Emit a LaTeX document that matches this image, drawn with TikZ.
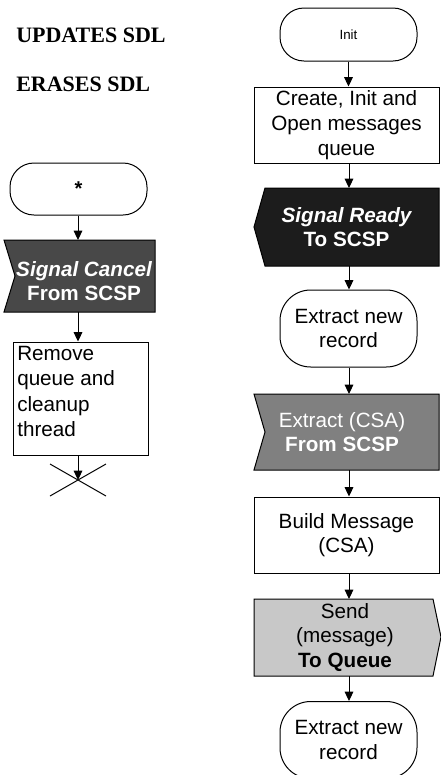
\documentclass[tikz,border=0pt]{standalone}
\usepackage{fontspec}
\setmainfont{Liberation Sans}
\newfontfamily\titlefont{Liberation Serif}
\usetikzlibrary{arrows.meta}

\definecolor{readyfill}{HTML}{1C1C1C}
\definecolor{cancelfill}{HTML}{484848}
\definecolor{csafill}{HTML}{808080}
\definecolor{sendfill}{HTML}{C8C8C8}

\tikzset{
  outline/.style={draw=black, line width=0.75pt},
  flow/.style={-{Triangle[length=7pt,width=6.5pt]}, line width=0.75pt},
  body/.style={font=\fontsize{15.5}{18.5}\selectfont, align=center, inner sep=0pt},
  stepbox/.style={outline, body, rectangle},
  term/.style={outline, body, rectangle, rounded corners=23pt},
  heading/.style={font=\titlefont\bfseries\fontsize{16.5}{18}\selectfont, anchor=base west, inner sep=0pt},
}

\begin{document}
\begin{tikzpicture}[x=0.75pt,y=-0.75pt]
\useasboundingbox (0,0) rectangle (440,775);

% headings
\node[heading] (hupd) at (16,42) {UPDATES SDL};
\node[heading] (hera) at (16,91) {ERASES SDL};

% ---------- right column ----------
\node[term, rounded corners=18pt, minimum width={137*0.75pt}, minimum height={53*0.75pt},
      font=\fontsize{10}{12}\selectfont] (init) at (348.5,34.5) {Init};

\node[stepbox, minimum width={185*0.75pt}, minimum height={76*0.75pt}] (create) at (346.5,125)
  {Create, Init and\\Open messages\\queue};

% output signal (pointed left)
\path[outline, fill=readyfill] (265,188) -- (439,188) -- (439,266) -- (265,266) -- (254,227) -- cycle;
\node[body, text=white] (ready) at (346.5,227)
  {\bfseries\itshape Signal Ready\\\bfseries To SCSP};
\coordinate (readyT) at (349,188);
\coordinate (readyB) at (349,266);

\node[term, minimum width={137*0.75pt}, minimum height={77*0.75pt}] (extr1) at (348.5,328.5)
  {Extract new\\record};

% input signal (notched left)
\path[outline, fill=csafill] (254,394) -- (439,394) -- (439,470) -- (254,470) -- (265,432) -- cycle;
\node[body, text=white] (csa) at (342,432)
  {Extract (CSA)\\\bfseries From SCSP};
\coordinate (csaT) at (349,394);
\coordinate (csaB) at (349,470);

\node[stepbox, minimum width={185*0.75pt}, minimum height={76*0.75pt}] (build) at (346.5,535)
  {Build Message\\(CSA)};

% output signal (pointed right)
\path[outline, fill=sendfill] (254,599) -- (433,599) -- (441,637) -- (433,676) -- (254,676) -- cycle;
\node[body] (send) at (345,637.5)
  {Send\\(message)\\\bfseries To Queue};
\coordinate (sendT) at (349,599);
\coordinate (sendB) at (349,676);

\node[term, minimum width={137*0.75pt}, minimum height={77*0.75pt}] (extr2) at (348.5,740)
  {Extract new\\record};

% right column connectors
\draw[flow] (init.south) -- (init.south |- create.north);
\draw[flow] (create.south -| readyT) -- (readyT);
\draw[flow] (readyB) -- (readyB |- extr1.north);
\draw[flow] (extr1.south -| csaT) -- (csaT);
\draw[flow] (csaB) -- (csaB |- build.north);
\draw[flow] (build.south -| sendT) -- (sendT);
\draw[flow] (sendB) -- (sendB |- extr2.north);

% ---------- left column ----------
\node[term, rounded corners=18pt, minimum width={137*0.75pt}, minimum height={52*0.75pt},
      font=\bfseries\fontsize{15}{18}\selectfont] (star) at (78.5,189) {*};

\path[outline, fill=cancelfill] (4,240) -- (155,240) -- (155,312) -- (4,312) -- (15,276) -- cycle;
\node[body, text=white] (cancel) at (84,281)
  {\bfseries\itshape Signal Cancel\\\bfseries From SCSP};
\coordinate (cancelT) at (78,240);
\coordinate (cancelB) at (78,312);

\node[stepbox, minimum width={135*0.75pt}, minimum height={113*0.75pt}] (remove) at (80.5,398.5) {};
\node[body, align=left, anchor=north west, font=\fontsize{15.5}{19}\selectfont] (removetxt) at (17,346)
  {Remove\\queue and\\cleanup\\thread};

% stop symbol
\coordinate (stop) at (78,480);
\draw[line width=0.75pt] (50,464) -- (106,496) (50,496) -- (106,464);

% left column connectors
\draw[flow] (star.south -| cancelT) -- (cancelT);
\draw[flow] (cancelB) -- (cancelB |- remove.north);
\draw[flow] (remove.south -| stop) -- (stop);

\end{tikzpicture}
\end{document}
